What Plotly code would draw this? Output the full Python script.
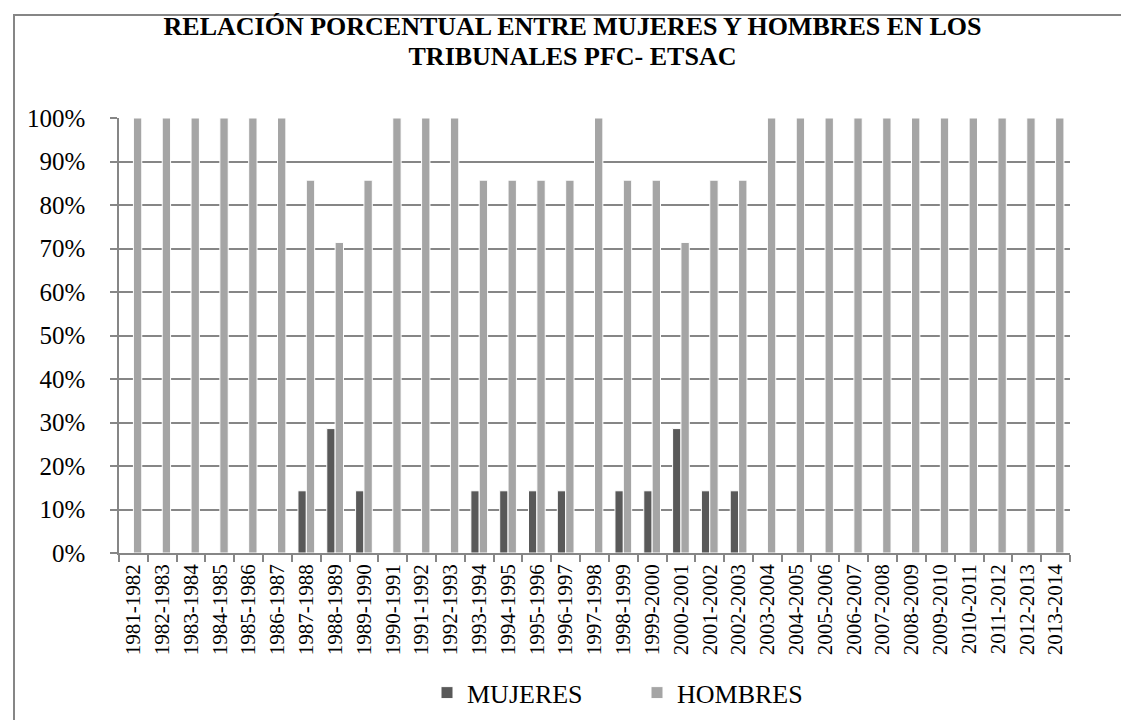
import plotly.graph_objects as go

categories = ["1981-1982", "1982-1983", "1983-1984", "1984-1985", "1985-1986", "1986-1987",
              "1987-1988", "1988-1989", "1989-1990", "1990-1991", "1991-1992", "1992-1993",
              "1993-1994", "1994-1995", "1995-1996", "1996-1997", "1997-1998", "1998-1999",
              "1999-2000", "2000-2001", "2001-2002", "2002-2003", "2003-2004", "2004-2005",
              "2005-2006", "2006-2007", "2007-2008", "2008-2009", "2009-2010", "2010-2011",
              "2011-2012", "2012-2013", "2013-2014"]

mujeres = [0, 0, 0, 0, 0, 0,
           0.143, 0.286, 0.143, 0, 0, 0,
           0.143, 0.143, 0.143, 0.143, 0, 0.143,
           0.143, 0.286, 0.143, 0.143, 0, 0,
           0, 0, 0, 0, 0, 0,
           0, 0, 0]

hombres = [1, 1, 1, 1, 1, 1,
           0.857, 0.714, 0.857, 1, 1, 1,
           0.857, 0.857, 0.857, 0.857, 1, 0.857,
           0.857, 0.714, 0.857, 0.857, 1, 1,
           1, 1, 1, 1, 1, 1,
           1, 1, 1]

title_lines = ["RELACIÓN PORCENTUAL ENTRE MUJERES Y HOMBRES EN LOS",
               "TRIBUNALES PFC- ETSAC"]

FONT = "Liberation Serif"
GRID = "#868686"

fig = go.Figure()
fig.add_trace(go.Bar(x=categories, y=mujeres, name="MUJERES",
                     marker=dict(color="#595959", line=dict(color="white", width=1))))
fig.add_trace(go.Bar(x=categories, y=hombres, name="HOMBRES",
                     marker=dict(color="#A5A5A5", line=dict(color="white", width=1))))

W, H = 1129, 720
ml, mr, mt, mb = 111, 67, 110, 171
pw, ph = W - ml - mr, H - mt - mb

def px_x(x):
    return (x - ml) / pw

def px_y(y):
    return (H - mb - y) / ph

title_html = "<br>".join("<b><span style='font-size:26px'>" + t + "</span></b>" for t in title_lines)

fig.update_layout(
    width=W, height=H,
    margin=dict(l=ml, r=mr, t=mt, b=mb, pad=0),
    paper_bgcolor="white", plot_bgcolor="white",
    barmode="group", bargap=0.42, bargroupgap=0,
    font=dict(family=FONT, color="black"),
    title=dict(text=title_html, x=0.5, xanchor="center", xref="container",
               y=1 - 27 / H, yanchor="top",
               font=dict(family=FONT, size=23, color="black")),
    xaxis=dict(type="category", tickangle=-90,
               tickfont=dict(family=FONT, size=21, color="black"),
               showline=True, linecolor=GRID, linewidth=1.5,
               ticks="outside", ticklen=7, tickcolor=GRID, tickwidth=1.5,
               tickson="boundaries", showgrid=False, ticklabelstandoff=1),
    yaxis=dict(range=[0, 1], dtick=0.1, tickformat=".0%",
               tickfont=dict(family=FONT, size=25, color="black"),
               showline=True, linecolor=GRID, linewidth=1.5,
               showgrid=True, gridcolor=GRID, gridwidth=1.5,
               ticks="outside", ticklen=7, tickcolor=GRID, tickwidth=1.5,
               zeroline=False, ticklabelstandoff=20),
    legend=dict(orientation="h", x=px_x(419), xanchor="left",
                y=px_y(690), yanchor="middle",
                entrywidth=165, entrywidthmode="pixels",
                font=dict(family=FONT, size=26, color="black")),
    showlegend=True,
    shapes=[
        dict(type="line", xref="paper", yref="paper",
             x0=px_x(6), x1=px_x(6), y0=px_y(6), y1=px_y(740),
             line=dict(color=GRID, width=2)),
        dict(type="line", xref="paper", yref="paper",
             x0=px_x(5), x1=px_x(1140), y0=px_y(6), y1=px_y(6),
             line=dict(color=GRID, width=2)),
    ],
)

fig.write_html("out.html")
